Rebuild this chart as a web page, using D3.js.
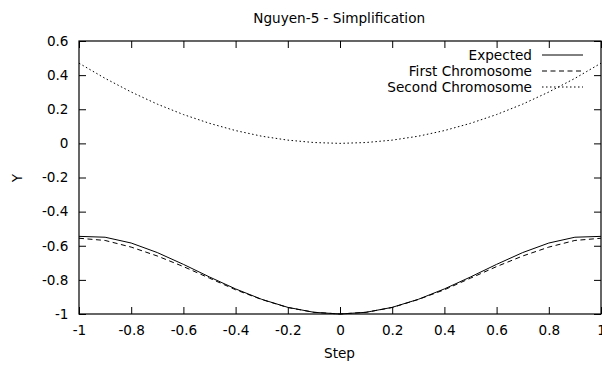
<!DOCTYPE html>
<html lang="en">
<head>
  <meta charset="UTF-8">
  <title>Nguyen-5 - Simplification</title>
  <style>
    body { margin: 0; background: #fff; }
    text { font-family: 'DejaVu Sans', sans-serif; font-size: 13.6px; fill: #000; }
  </style>
</head>
<body>
  <svg id="svg" width="602" height="365"></svg>

  <script src="https://d3js.org/d3.v7.min.js"></script>
  <script>
    const steps = [-1, -0.9, -0.8, -0.7, -0.6, -0.5, -0.4, -0.3, -0.2, -0.1, 0,
                   0.1, 0.2, 0.3, 0.4, 0.5, 0.6, 0.7, 0.8, 0.9, 1]
    const expected = [-0.545, -0.550, -0.584, -0.640, -0.709, -0.783, -0.853, -0.914, -0.961, -0.990, -1,
                      -0.990, -0.961, -0.914, -0.853, -0.783, -0.709, -0.640, -0.584, -0.550, -0.545]
    const firstChromosome = [-0.556, -0.569, -0.608, -0.660, -0.722, -0.790, -0.858, -0.915, -0.962, -0.990, -1,
                             -0.990, -0.962, -0.915, -0.858, -0.790, -0.722, -0.660, -0.608, -0.569, -0.556]
    const secondChromosome = [0.47, 0.381, 0.301, 0.230, 0.169, 0.1175, 0.075, 0.042, 0.019, 0.005, 0,
                              0.005, 0.019, 0.042, 0.075, 0.1175, 0.169, 0.230, 0.301, 0.381, 0.47]
    const xTicks = [-1, -0.8, -0.6, -0.4, -0.2, 0, 0.2, 0.4, 0.6, 0.8, 1]
    const yTicks = [-1, -0.8, -0.6, -0.4, -0.2, 0, 0.2, 0.4, 0.6]

    const series = [
      { name: 'Expected', values: expected, dash: null },
      { name: 'First Chromosome', values: firstChromosome, dash: '5,3.5' },
      { name: 'Second Chromosome', values: secondChromosome, dash: '1.5,2.5' }
    ]

    const plot = { left: 79, right: 601, top: 41, bottom: 314 }
    const xScale = d3.scaleLinear().domain([-1, 1]).range([plot.left, plot.right])
    const yScale = d3.scaleLinear().domain([-1, 0.6]).range([plot.bottom, plot.top])

    const svg = d3.select('#svg')
    const fmt = d => String(d)

    // ticks, mirrored on all sides, pointing inward
    const tickLen = 7
    svg.append('g').call(d3.axisBottom(xScale).tickValues(xTicks).tickSize(-tickLen).tickPadding(11.3).tickFormat(fmt))
      .attr('transform', `translate(0,${plot.bottom})`)
    svg.append('g').call(d3.axisTop(xScale).tickValues(xTicks).tickSize(-tickLen).tickFormat(''))
      .attr('transform', `translate(0,${plot.top})`)
    svg.append('g').call(d3.axisLeft(yScale).tickValues(yTicks).tickSize(-tickLen).tickPadding(10.5).tickFormat(fmt))
      .attr('transform', `translate(${plot.left},0)`)
    svg.append('g').call(d3.axisRight(yScale).tickValues(yTicks).tickSize(-tickLen).tickFormat(''))
      .attr('transform', `translate(${plot.right},0)`)

    svg.selectAll('.domain').remove()
    svg.selectAll('.tick line').attr('stroke', '#000').attr('stroke-width', 1)
    svg.selectAll('.tick text').style('font-size', '13.6px').style('font-family', "'DejaVu Sans', sans-serif")

    // border
    svg.append('rect')
      .attr('x', plot.left).attr('y', plot.top)
      .attr('width', plot.right - plot.left).attr('height', plot.bottom - plot.top)
      .attr('fill', 'none').attr('stroke', '#000').attr('stroke-width', 1.2)

    // lines
    const line = d3.line()
      .x((d, i) => xScale(steps[i]))
      .y(d => yScale(d))

    svg.selectAll('path.series')
      .data(series)
      .enter()
      .append('path')
      .attr('class', 'series')
      .attr('d', d => line(d.values))
      .attr('fill', 'none')
      .attr('stroke', '#000')
      .attr('stroke-width', 1)
      .attr('stroke-dasharray', d => d.dash)

    // legend
    const legend = svg.selectAll('g.legend')
      .data(series)
      .enter()
      .append('g')
      .attr('class', 'legend')
      .attr('transform', (d, i) => `translate(0,${55 + i * 16})`)
    legend.append('text')
      .attr('x', 532).attr('y', 5)
      .attr('text-anchor', 'end')
      .text(d => d.name)
    legend.append('line')
      .attr('x1', 542).attr('x2', 583)
      .attr('stroke', '#000')
      .attr('stroke-dasharray', d => d.dash)

    // title and axis labels
    svg.append('text')
      .attr('x', 339.2).attr('y', 23.3)
      .attr('text-anchor', 'middle')
      .text('Nguyen-5 - Simplification')
    svg.append('text')
      .attr('x', 339.5).attr('y', 357.5)
      .attr('text-anchor', 'middle')
      .text('Step')
    svg.append('text')
      .attr('transform', 'translate(21.5,178) rotate(-90)')
      .attr('text-anchor', 'middle')
      .text('Y')
  </script>
</body>
</html>
